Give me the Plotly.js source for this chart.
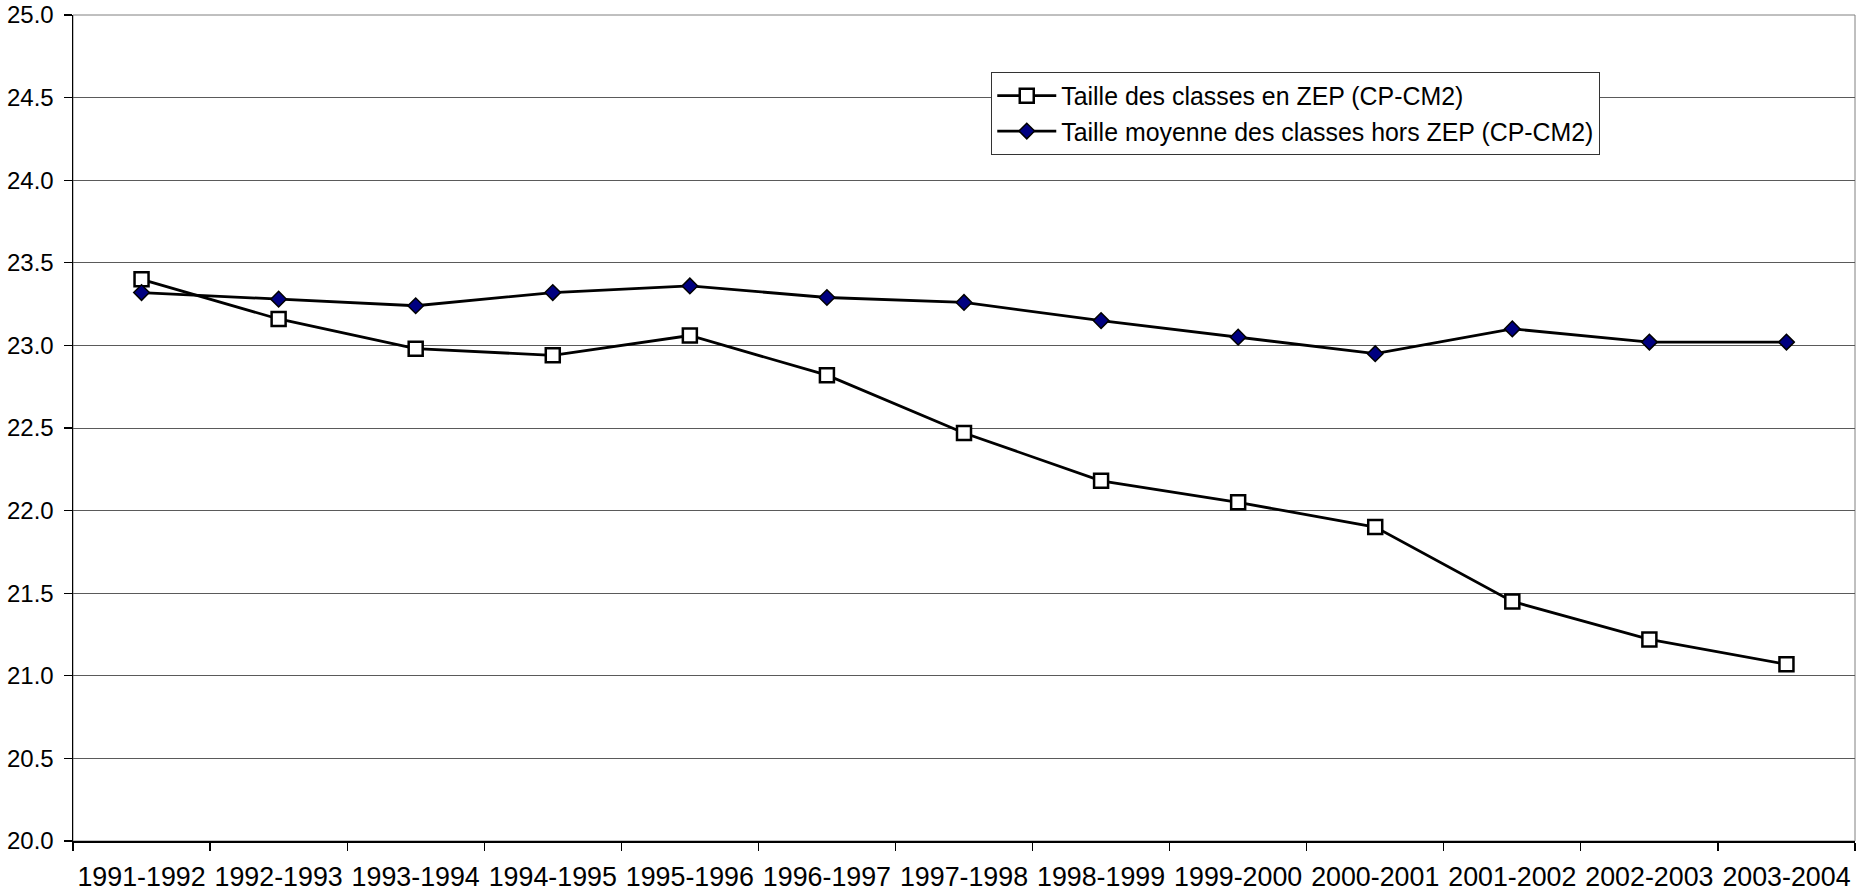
<!DOCTYPE html>
<html>
<head>
<meta charset="utf-8">
<script src="https://cdn.plot.ly/plotly-3.0.1.min.js"></script>
<style>html,body{margin:0;padding:0;background:#fff;}#chart{width:1856px;height:893px;}</style>
</head>
<body>
<div id="chart"></div>
<script>
const categories = ["1991-1992","1992-1993","1993-1994","1994-1995","1995-1996","1996-1997","1997-1998","1998-1999","1999-2000","2000-2001","2001-2002","2002-2003","2003-2004"];
const zepValues = [23.40, 23.16, 22.98, 22.94, 23.06, 22.82, 22.47, 22.18, 22.05, 21.90, 21.45, 21.22, 21.07];
const horsZepValues = [23.32, 23.28, 23.24, 23.32, 23.36, 23.29, 23.26, 23.15, 23.05, 22.95, 23.10, 23.02, 23.02];
const zepName = "Taille des classes en ZEP (CP-CM2)";
const horsZepName = "Taille moyenne des classes hors ZEP (CP-CM2)";
const yTickVals = [20, 20.5, 21, 21.5, 22, 22.5, 23, 23.5, 24, 24.5, 25];
const yTickText = ["20.0","20.5","21.0","21.5","22.0","22.5","23.0","23.5","24.0","24.5","25.0"];

const font = "Liberation Sans, Arial, sans-serif";

const traces = [
  {
    x: categories, y: zepValues, name: zepName, type: "scatter", mode: "lines+markers",
    legendgroup: "a",
    line: {color: "#000000", width: 2.8},
    marker: {symbol: "square", size: 14, color: "#ffffff", line: {color: "#000000", width: 2.5}}
  },
  {
    x: categories, y: horsZepValues, name: horsZepName, type: "scatter", mode: "lines+markers",
    legendgroup: "b",
    line: {color: "#000000", width: 2.8},
    marker: {symbol: "diamond", size: 12, color: "#000080", line: {color: "#000000", width: 1.5}}
  }
];

const layout = {
  width: 1856, height: 893,
  margin: {l: 73, r: 1, t: 15, b: 52},
  paper_bgcolor: "#ffffff", plot_bgcolor: "#ffffff",
  font: {family: font, size: 24, color: "#000000"},
  showlegend: true,
  legend: {
    x: 0.5153, y: 0.931, xanchor: "left", yanchor: "top",
    bgcolor: "#ffffff", bordercolor: "#333333", borderwidth: 1,
    font: {family: font, size: 24.9, color: "#000000"},
    tracegroupgap: 0, itemwidth: 59
  },
  xaxis: {
    type: "category", range: [-0.5, 12.5],
    showgrid: false, zeroline: false,
    showline: true, linecolor: "#000000", linewidth: 1.5,
    ticks: "outside", tickson: "boundaries", ticklen: 8, tickcolor: "#000000", tickwidth: 1.2,
    ticklabelstandoff: 11, tickangle: 0,
    tickfont: {family: font, size: 26.8, color: "#000000"},
    fixedrange: true
  },
  yaxis: {
    range: [20, 25], tickvals: yTickVals, ticktext: yTickText,
    showgrid: true, gridcolor: "#5a5a5a", gridwidth: 1,
    zeroline: false,
    showline: true, linecolor: "#000000", linewidth: 1.5,
    ticks: "outside", ticklen: 8, tickcolor: "#000000", tickwidth: 1.2,
    ticklabelstandoff: 5,
    tickfont: {family: font, size: 24, color: "#000000"},
    fixedrange: true
  },
  shapes: [
    {type: "rect", xref: "paper", yref: "paper", x0: 0, x1: 1, y0: 0, y1: 1,
     line: {color: "#808080", width: 1}, fillcolor: "rgba(0,0,0,0)", layer: "below"}
  ]
};

Plotly.newPlot("chart", traces, layout, {displayModeBar: false, staticPlot: true});
</script>
</body>
</html>
